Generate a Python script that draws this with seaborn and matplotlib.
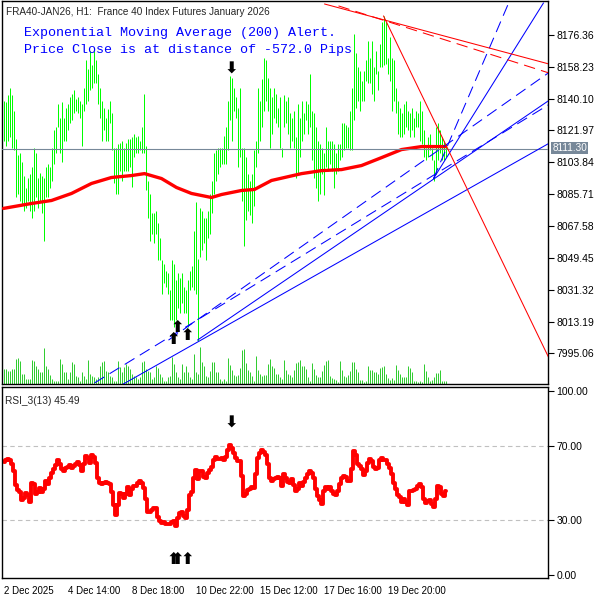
import numpy as np
import pandas as pd
import matplotlib
matplotlib.use("Agg")
import matplotlib.pyplot as plt
import seaborn as sns

high = [8139, 8138, 8142, 8146, 8142, 8133, 8117, 8108, 8109, 8104,
        8096, 8089, 8095, 8097, 8101, 8112, 8109, 8095, 8098, 8096,
        8095, 8101, 8103, 8101, 8112, 8122, 8124, 8137, 8129, 8138,
        8129, 8135, 8137, 8141, 8143, 8145, 8140, 8141, 8139, 8137,
        8146, 8162, 8157, 8167, 8159, 8167, 8162, 8154, 8146, 8139,
        8135, 8129, 8134, 8139, 8132, 8112, 8112, 8114, 8115, 8116,
        8112, 8115, 8117, 8117, 8118, 8120, 8118, 8119, 8116, 8124,
        8143, 8113, 8093, 8086, 8075, 8075, 8076, 8069, 8061, 8048,
        8046, 8042, 8041, 8031, 8048, 8046, 8037, 8041, 8038, 8041,
        8033, 8031, 8037, 8042, 8045, 8065, 8081, 8049, 8078, 8076,
        8072, 8072, 8076, 8086, 8093, 8109, 8111, 8112, 8112, 8112,
        8119, 8124, 8139, 8153, 8152, 8146, 8141, 8135, 8146, 8112,
        8112, 8107, 8097, 8093, 8097, 8111, 8116, 8146, 8139, 8151,
        8163, 8162, 8152, 8146, 8141, 8146, 8143, 8135, 8141, 8112,
        8142, 8139, 8141, 8132, 8129, 8133, 8118, 8137, 8129, 8139,
        8132, 8139, 8137, 8154, 8133, 8132, 8124, 8116, 8114, 8112,
        8109, 8124, 8116, 8116, 8116, 8114, 8109, 8114, 8114, 8126,
        8126, 8125, 8124, 8133, 8146, 8177, 8166, 8158, 8156, 8150,
        8156, 8162, 8173, 8163, 8173, 8158, 8167, 8156, 8171, 8184,
        8187, 8184, 8163, 8175, 8163, 8162, 8146, 8139, 8135, 8132,
        8137, 8139, 8133, 8132, 8135, 8129, 8133, 8132, 8139, 8133,
        8122, 8112, 8118, 8120, 8112, 8105, 8124, 8126, 8122, 8118,
        8116, 8114]
low = [8116, 8113, 8116, 8118, 8112, 8111, 8084, 8086, 8082, 8080,
       8076, 8078, 8082, 8076, 8072, 8076, 8084, 8078, 8082, 8075,
       8059, 8084, 8084, 8089, 8093, 8103, 8109, 8124, 8109, 8104,
       8116, 8116, 8122, 8126, 8128, 8132, 8133, 8132, 8129, 8113,
       8133, 8137, 8139, 8145, 8146, 8149, 8149, 8137, 8129, 8116,
       8122, 8116, 8116, 8126, 8111, 8092, 8086, 8086, 8099, 8093,
       8099, 8099, 8099, 8101, 8090, 8107, 8109, 8109, 8111, 8109,
       8109, 8088, 8072, 8059, 8063, 8058, 8063, 8048, 8048, 8029,
       8035, 8033, 8029, 8014, 8014, 8010, 8014, 8021, 8018, 8024,
       8018, 8018, 8010, 8031, 8033, 8031, 8029, 8002, 8050, 8054,
       8058, 8048, 8061, 8063, 8075, 8086, 8093, 8097, 8101, 8103,
       8103, 8103, 8111, 8128, 8116, 8133, 8129, 8101, 8107, 8082,
       8056, 8071, 8076, 8074, 8069, 8079, 8101, 8109, 8116, 8124,
       8133, 8139, 8133, 8112, 8120, 8129, 8126, 8124, 8112, 8107,
       8124, 8126, 8120, 8112, 8116, 8112, 8095, 8097, 8107, 8116,
       8120, 8128, 8120, 8124, 8105, 8095, 8089, 8082, 8086, 8097,
       8085, 8101, 8099, 8103, 8099, 8089, 8097, 8099, 8105, 8107,
       8111, 8112, 8112, 8111, 8111, 8128, 8135, 8139, 8133, 8139,
       8139, 8150, 8149, 8149, 8143, 8139, 8154, 8145, 8158, 8158,
       8159, 8160, 8154, 8150, 8133, 8139, 8132, 8120, 8118, 8118,
       8120, 8124, 8122, 8118, 8122, 8118, 8124, 8124, 8116, 8114,
       8107, 8105, 8107, 8111, 8105, 8093, 8097, 8105, 8109, 8105,
       8105, 8107]
volume = [45, 45, 40, 40, 45, 45, 75, 77, 68, 30, 30, 15, 15, 15, 72, 68, 53, 45, 37, 35,
          108, 55, 45, 28, 15, 8, 8, 8, 75, 60, 35, 35, 15, 35, 65, 60, 25, 20, 8, 37,
          25, 15, 72, 30, 25, 20, 15, 20, 55, 65, 70, 40, 35, 25, 20, 10, 10, 70, 50, 35,
          50, 60, 55, 45, 30, 25, 20, 15, 20, 65, 70, 45, 40, 35, 15, 20, 55, 47, 30, 20,
          10, 10, 20, 25, 80, 60, 35, 20, 15, 60, 35, 55, 35, 20, 15, 90, 35, 30, 110, 65,
          55, 25, 20, 40, 65, 65, 35, 35, 15, 10, 15, 10, 78, 57, 42, 27, 25, 27, 48, 102,
          105, 63, 42, 35, 25, 10, 84, 42, 30, 25, 27, 27, 60, 75, 53, 48, 30, 30, 20, 15,
          72, 42, 30, 27, 20, 42, 63, 66, 72, 54, 54, 45, 20, 10, 63, 45, 27, 20, 20, 39,
          57, 69, 72, 24, 18, 15, 12, 7, 69, 42, 24, 21, 27, 39, 66, 66, 45, 36, 12, 12,
          6, 10, 54, 42, 42, 36, 36, 30, 48, 51, 54, 30, 18, 12, 18, 12, 57, 42, 30, 21,
          21, 21, 54, 48, 36, 9, 9, 7, 9, 6, 60, 39, 21, 9, 12, 21, 33, 33, 42, 9,
          8, 8]
rsi = [61.3, 62.4, 63.3, 62.7, 60.6, 56.5, 48.9, 46.3, 45.2, 40.6,
       41.8, 44.5, 43.4, 39.7, 50.3, 49.4, 44.1, 45.4, 47.5, 45.0,
       46.8, 50.9, 49.6, 53.0, 55.7, 57.8, 59.9, 62.4, 60.1, 57.4,
       56.4, 58.3, 58.9, 59.9, 58.3, 59.0, 60.6, 61.5, 59.7, 56.5,
       60.1, 64.5, 63.6, 61.0, 65.4, 64.2, 61.0, 53.0, 50.3, 49.4,
       50.3, 50.7, 50.3, 49.4, 45.0, 38.3, 32.6, 38.0, 44.7, 44.1,
       41.8, 44.1, 47.7, 43.3, 46.8, 48.6, 48.6, 50.0, 51.2, 50.3,
       47.3, 41.5, 34.4, 34.0, 35.3, 36.2, 36.2, 31.7, 29.4, 28.2,
       28.7, 27.6, 27.6, 28.0, 29.1, 29.4, 26.8, 30.9, 33.5, 34.4,
       32.3, 31.2, 35.3, 43.3, 45.0, 53.0, 57.1, 52.1, 56.5, 56.5,
       53.5, 52.5, 55.3, 57.1, 58.8, 62.7, 64.2, 63.1, 63.1, 63.6,
       62.7, 64.2, 68.1, 70.7, 69.0, 66.6, 63.6, 62.2, 61.9, 53.9,
       42.9, 44.1, 46.4, 46.8, 47.7, 47.1, 54.8, 63.6, 66.6, 68.1,
       67.0, 65.2, 60.1, 53.0, 51.2, 52.1, 53.0, 53.5, 52.5, 48.6,
       54.8, 53.0, 50.7, 50.3, 52.1, 48.9, 45.9, 46.8, 50.0, 48.6,
       50.7, 52.5, 54.8, 56.4, 55.7, 53.0, 46.8, 42.9, 40.9, 38.8,
       45.9, 47.7, 46.8, 47.9, 45.9, 44.0, 43.6, 45.7, 49.6, 53.0,
       53.9, 53.5, 51.0, 51.0, 57.4, 67.2, 65.4, 60.6, 59.2, 57.4,
       54.2, 56.5, 61.0, 63.1, 61.9, 58.8, 57.4, 58.3, 62.4, 63.6,
       62.7, 62.4, 60.6, 58.3, 54.8, 50.3, 46.8, 43.6, 42.4, 39.7,
       41.5, 39.7, 38.3, 45.9, 45.9, 46.1, 46.8, 48.2, 49.3, 47.7,
       41.1, 39.0, 40.4, 40.6, 38.8, 37.0, 41.5, 48.2, 47.7, 44.1,
       42.9, 45.5]

ema_idx = [0, 14, 24, 34, 44, 54, 64, 70.5, 79, 86.5, 94, 104, 109, 119, 125.5,
           134, 149, 159, 169, 179, 189, 199, 209, 221]
ema_val = [8077.6, 8080.4, 8082.1, 8086.1, 8091.8, 8095.2, 8096.3, 8097.4, 8094.6,
           8089.5, 8086.1, 8083.8, 8085.5, 8087.8, 8088.4, 8093.5, 8097.4, 8099.1,
           8099.7, 8102.0, 8106.5, 8111.1, 8112.8, 8112.8]

last_price = 8111.30
price_ticks = [8176.36, 8158.23, 8140.10, 8121.97, 8103.84, 8085.71,
               8067.58, 8049.45, 8031.32, 8013.19, 7995.06]
rsi_ticks = [100, 70, 30, 0]
date_pos = [0, 32, 64, 96, 128, 160, 192]
date_labels = ["2 Dec 2025", "4 Dec 14:00", "8 Dec 18:00", "10 Dec 22:00",
               "15 Dec 12:00", "17 Dec 16:00", "19 Dec 20:00"]

# segnali (frecce)
sell_idx, sell_price, sell_rsi = [114], [8157], [82.6]
buy_idx = [87, 85, 92]
buy_price = [8010, 8003, 8005]
buy_rsi_idx = [85, 87, 92]
buy_rsi = [8.2, 8.2, 8.2]

# trendline (indice barra, prezzo) -> (x1, y1, x2, y2)
blue_solid = [(59, 7977.0, 272.5, 8114.5),
              (97, 8002.6, 272.5, 8138.9),
              (215, 8094.6, 270, 8194.6)]
blue_dash = [(45.5, 7978.2, 272.5, 8136.6),
             (215, 8094.6, 253, 8195.7),
             (82.5, 8002.6, 272.5, 8154.8)]
red_solid = [(190, 8187.2, 272.5, 7992.9),
             (160.5, 8194.0, 272.5, 8159.9)]
red_dash = [(167.5, 8192.9, 272.5, 8154.8)]

idx = np.arange(len(high))
df = pd.DataFrame({"i": idx, "high": high, "low": low, "vol": volume, "rsi": rsi})
ema = pd.DataFrame({"i": ema_idx, "ema": ema_val})

sns.set_style("white")
plt.rcParams["font.family"] = ["Liberation Sans", "DejaVu Sans"]

fig = plt.figure(figsize=(6, 6), dpi=100)
# 546 px per 273 barre -> 2 px per barra, centri sui pixel
ax = fig.add_axes([2/600, 1 - 384/600, 546/600, 383/600])
ax_rsi = fig.add_axes([2/600, 1 - 578/600, 546/600, 191/600])
ax_vol = ax.twinx()

XMIN, XMAX = -0.75, 272.25

# VOLUMI
ax_vol.vlines(df["i"], 0, df["vol"], color="#32cd32", lw=0.72)
ax_vol.set_ylim(0, 1152)
ax_vol.set_xlim(XMIN, XMAX)
ax_vol.axis("off")
ax.set_zorder(ax_vol.get_zorder() + 1)
ax.patch.set_visible(False)
ax_vol.patch.set_visible(True)
ax_vol.patch.set_facecolor("white")

# BARRE PREZZO
ax.vlines(df["i"], df["low"], df["high"], color="#00ff00", lw=0.72, zorder=2)
sns.lineplot(data=ema, x="i", y="ema", ax=ax, color="red", lw=2.4, zorder=3)
ax.axhline(last_price, color="#778899", lw=0.8, zorder=4)

for x1, y1, x2, y2 in blue_solid:
    ax.plot([x1, x2], [y1, y2], color="#0000ff", lw=0.75, zorder=5)
for x1, y1, x2, y2 in blue_dash:
    ax.plot([x1, x2], [y1, y2], color="#0000ff", lw=0.75, ls=(0, (11, 6)), zorder=5)
for x1, y1, x2, y2 in red_solid:
    ax.plot([x1, x2], [y1, y2], color="red", lw=0.75, zorder=5)
for x1, y1, x2, y2 in red_dash:
    ax.plot([x1, x2], [y1, y2], color="red", lw=0.75, ls=(0, (11, 6)), zorder=5)

arrow_kw = dict(ha="center", va="center", fontsize=11.5, fontweight="bold",
                family="DejaVu Sans", color="black")
for x, y in zip(sell_idx, sell_price):
    ax.text(x, y, "⬇", zorder=6, **arrow_kw)
for x, y in zip(buy_idx, buy_price):
    ax.text(x, y, "⬆", zorder=6, **arrow_kw)

ax.set_xlim(XMIN, XMAX)
ax.set_ylim(7977.6, 8195.7)
ax.yaxis.tick_right()
ax.set_yticks(price_ticks)
ax.set_yticklabels([f"{v:.2f}" for v in price_ticks])
ax.set_xticks([])
ax.set_xlabel("")
ax.set_ylabel("")
ax.tick_params(axis="y", direction="out", length=4, width=0.8, pad=2,
               labelsize=7.5, right=True, colors="black")

ax.text(0.008, 0.985, "FRA40-JAN26, H1:  France 40 Index Futures January 2026",
        transform=ax.transAxes, fontsize=7.2, va="top", ha="left", zorder=7)
ax.text(0.04, 0.916, "Exponential Moving Average (200) Alert.", transform=ax.transAxes,
        fontsize=9.6, color="#0000ff", family="Liberation Mono", va="center", zorder=7)
ax.text(0.04, 0.872, "Price Close is at distance of -572.0 Pips", transform=ax.transAxes,
        fontsize=9.6, color="#0000ff", family="Liberation Mono", va="center", zorder=7)
ax.text(1.008, last_price + 0.6, f"{last_price:.2f}", transform=ax.get_yaxis_transform(),
        fontsize=7.2, color="white", va="center", ha="left", zorder=8, clip_on=False,
        bbox=dict(boxstyle="square,pad=0.12", fc="#778899", ec="none"))

# RSI
sns.lineplot(data=df, x="i", y="rsi", ax=ax_rsi, color="red", lw=2.8,
             drawstyle="steps-mid")
for lvl in (70, 30):
    ax_rsi.axhline(lvl, color="#c0c0c0", lw=0.8, ls=(0, (4, 3)), zorder=1)
for x, y in zip(sell_idx, sell_rsi):
    ax_rsi.text(x, y, "⬇", **arrow_kw)
for x, y in zip(buy_rsi_idx, buy_rsi):
    ax_rsi.text(x, y, "⬆", **arrow_kw)
ax_rsi.text(0.006, 0.955, "RSI_3(13) 45.49", transform=ax_rsi.transAxes,
            fontsize=7.3, va="top", ha="left")
ax_rsi.set_xlim(XMIN, XMAX)
ax_rsi.set_ylim(-1.6, 102.2)
ax_rsi.yaxis.tick_right()
ax_rsi.set_yticks(rsi_ticks)
ax_rsi.set_yticklabels([f"{v:.2f}" for v in rsi_ticks])
ax_rsi.set_xticks(date_pos)
ax_rsi.set_xticklabels(date_labels, ha="left")
ax_rsi.set_xlabel("")
ax_rsi.set_ylabel("")
ax_rsi.tick_params(axis="both", direction="out", length=4, width=0.8, pad=2,
                   labelsize=7.0, colors="black")
ax_rsi.tick_params(axis="y", labelsize=7.5)

for a in (ax, ax_rsi):
    for s in a.spines.values():
        s.set_color("black")
        s.set_linewidth(1.0)

fig.savefig("out.png", dpi=100, facecolor="white")
